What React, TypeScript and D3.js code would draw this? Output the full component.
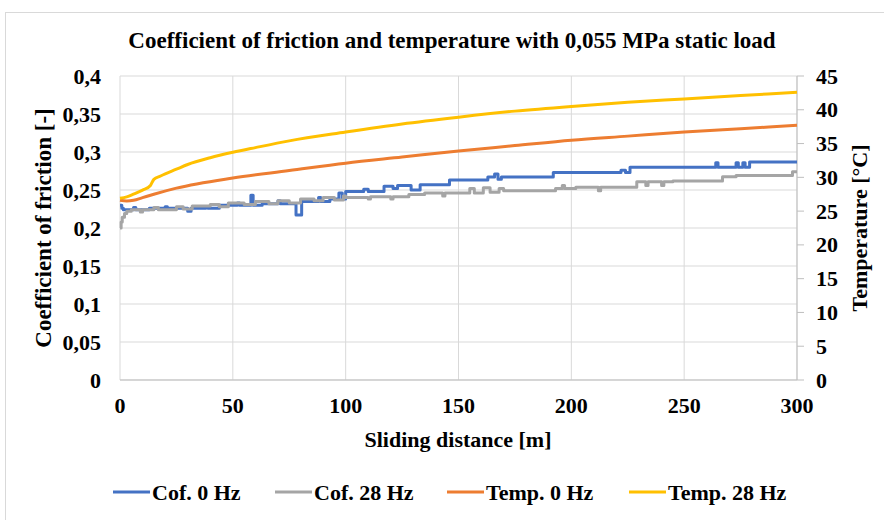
import React from "react";
import * as d3 from "d3";

// Sliding distance [m] / coefficient of friction (step readings)
const cof0Dist = [0, 0.8, 1.5, 6, 7, 13, 20, 21, 30, 31.5, 38, 39, 44, 52, 53, 58, 59, 63, 70, 71, 78, 80.5, 88, 89, 93, 97, 98.5, 100, 108, 110, 117, 121, 123, 129, 133, 146, 163, 166, 167.5, 169, 192, 222, 224, 226, 264, 265, 273, 274, 276, 277, 279, 300];
const cof0Val = [0.23, 0.226, 0.224, 0.227, 0.224, 0.226, 0.228, 0.226, 0.222, 0.226, 0.228, 0.226, 0.23, 0.233, 0.23, 0.243, 0.23, 0.232, 0.236, 0.232, 0.217, 0.235, 0.24, 0.235, 0.238, 0.246, 0.238, 0.248, 0.251, 0.248, 0.255, 0.252, 0.256, 0.25, 0.257, 0.263, 0.267, 0.271, 0.264, 0.267, 0.273, 0.276, 0.273, 0.28, 0.286, 0.28, 0.286, 0.28, 0.286, 0.28, 0.287, 0.287];

const cof28Dist = [0, 0.5, 1, 2, 3, 5, 9, 10, 15, 17, 25, 28, 32, 40, 44, 48, 55, 60, 66, 70, 75, 80, 86, 90, 95, 99, 100, 110, 111, 120, 121, 128, 135, 143, 144, 155, 157, 161, 164, 168, 170, 193, 196, 197, 202, 212, 213, 229, 233, 234, 240, 241, 245, 267, 273, 298, 300];
const cof28Val = [0.2, 0.208, 0.214, 0.219, 0.222, 0.224, 0.221, 0.224, 0.227, 0.224, 0.228, 0.225, 0.229, 0.231, 0.228, 0.233, 0.231, 0.235, 0.232, 0.236, 0.233, 0.238, 0.236, 0.24, 0.237, 0.242, 0.24, 0.238, 0.241, 0.238, 0.241, 0.244, 0.246, 0.242, 0.246, 0.252, 0.246, 0.253, 0.247, 0.252, 0.249, 0.252, 0.256, 0.252, 0.2535, 0.249, 0.2535, 0.261, 0.256, 0.261, 0.256, 0.261, 0.262, 0.2675, 0.269, 0.274, 0.274];

// Temperature [°C]
const temp0Dist = [0, 3, 6, 10, 15, 25, 50, 75, 100, 125, 150, 175, 200, 225, 250, 275, 300];
const temp0Val = [26.6, 26.5, 26.6, 27.0, 27.5, 28.4, 29.9, 31.0, 32.1, 33.0, 33.9, 34.7, 35.5, 36.1, 36.7, 37.2, 37.7];

const temp28Dist = [0, 3, 6, 10, 13.5, 15, 18, 25, 30, 40, 50, 60, 75, 100, 125, 150, 175, 200, 225, 250, 275, 300];
const temp28Val = [26.9, 27.1, 27.5, 28.1, 28.8, 29.7, 30.2, 31.2, 31.9, 32.9, 33.7, 34.4, 35.4, 36.7, 37.9, 38.9, 39.8, 40.5, 41.1, 41.6, 42.1, 42.6];

const xTicks = [0, 50, 100, 150, 200, 250, 300];
const cofTicks = [0, 0.05, 0.1, 0.15, 0.2, 0.25, 0.3, 0.35, 0.4];
const tempTicks = [0, 5, 10, 15, 20, 25, 30, 35, 40, 45];

const seriesNames = ["Cof. 0 Hz", "Cof. 28 Hz", "Temp. 0 Hz", "Temp. 28 Hz"];
const seriesColors = ["#4472C4", "#A5A5A5", "#ED7D31", "#FFC000"];

const W = 884;
const H = 520;
const plot = { left: 120, right: 797, top: 76, bottom: 380 };
const fmt = (v: number) => String(+v.toFixed(2)).replace(".", ",");

// shared text styling
const txt = { fontFamily: "Liberation Serif", fontWeight: 700, fontSize: 22, dominantBaseline: "central" as const };

export default function App() {
  const x = d3.scaleLinear().domain([0, 300]).range([plot.left, plot.right]);
  const yL = d3.scaleLinear().domain([0, 0.4]).range([plot.bottom, plot.top]);
  const yR = d3.scaleLinear().domain([0, 45]).range([plot.bottom, plot.top]);

  const stepLine = d3
    .line<[number, number]>()
    .x((d) => x(d[0]))
    .y((d) => yL(d[1]))
    .curve(d3.curveStepAfter);
  const smoothLine = d3
    .line<[number, number]>()
    .x((d) => x(d[0]))
    .y((d) => yR(d[1]))
    .curve(d3.curveMonotoneX);

  const zip = (a: number[], b: number[]) => a.map((v, i) => [v, b[i]] as [number, number]);
  const paths = [
    stepLine(zip(cof0Dist, cof0Val)),
    stepLine(zip(cof28Dist, cof28Val)),
    smoothLine(zip(temp0Dist, temp0Val)),
    smoothLine(zip(temp28Dist, temp28Val)),
  ];

  const legendX = [113, 275, 447, 629];
  const legendY = 492;

  return (
    <svg width={W} height={H} style={{ position: "absolute", left: 0, top: 0, background: "#fff" }}>
      <rect x={5.5} y={12.5} width={W + 20} height={H + 20} fill="#fff" stroke="#d9d9d9" />

      <text {...txt} fontSize={23} x={452} y={40} textAnchor="middle">
        Coefficient of friction and temperature with 0,055 MPa static load
      </text>

      {/* gridlines */}
      {cofTicks.map((t) => (
        <line key={"h" + t} x1={plot.left} x2={plot.right} y1={yL(t)} y2={yL(t)} stroke="#d9d9d9" strokeWidth={1} />
      ))}
      {xTicks.map((t) => (
        <line key={"v" + t} x1={x(t)} x2={x(t)} y1={plot.top} y2={plot.bottom} stroke="#d9d9d9" strokeWidth={1} />
      ))}
      {/* axes */}
      <line x1={plot.left} x2={plot.right} y1={plot.bottom} y2={plot.bottom} stroke="#bfbfbf" />
      <line x1={plot.right} x2={plot.right} y1={plot.top} y2={plot.bottom} stroke="#bfbfbf" />
      {tempTicks.map((t) => (
        <line key={"rt" + t} x1={plot.right} x2={plot.right + 7} y1={yR(t)} y2={yR(t)} stroke="#bfbfbf" />
      ))}

      {/* series */}
      {paths.map((p, i) => (
        <path key={i} d={p || ""} fill="none" stroke={seriesColors[i]} strokeWidth={3} strokeLinejoin="round" />
      ))}

      {/* tick labels */}
      {cofTicks.map((t) => (
        <text {...txt} key={"lt" + t} x={101} y={yL(t)} textAnchor="end">
          {fmt(t)}
        </text>
      ))}
      {tempTicks.map((t) => (
        <text {...txt} key={"rl" + t} x={816} y={yR(t)} textAnchor="start">
          {t}
        </text>
      ))}
      {xTicks.map((t) => (
        <text {...txt} key={"xl" + t} x={x(t)} y={405} textAnchor="middle">
          {t}
        </text>
      ))}

      {/* axis titles */}
      <text {...txt} x={458} y={439} textAnchor="middle">
        Sliding distance [m]
      </text>
      <text {...txt} fontSize={23} transform="translate(43,228) rotate(-90)" textAnchor="middle">
        Coefficient of friction [-]
      </text>
      <text {...txt} transform="translate(859,228) rotate(-90)" textAnchor="middle">
        Temperature [°C]
      </text>

      {/* legend */}
      {seriesNames.map((n, i) => (
        <g key={n}>
          <line x1={legendX[i]} x2={legendX[i] + 37} y1={legendY} y2={legendY} stroke={seriesColors[i]} strokeWidth={3} />
          <text {...txt} x={legendX[i] + 39} y={legendY}>
            {n}
          </text>
        </g>
      ))}
    </svg>
  );
}
